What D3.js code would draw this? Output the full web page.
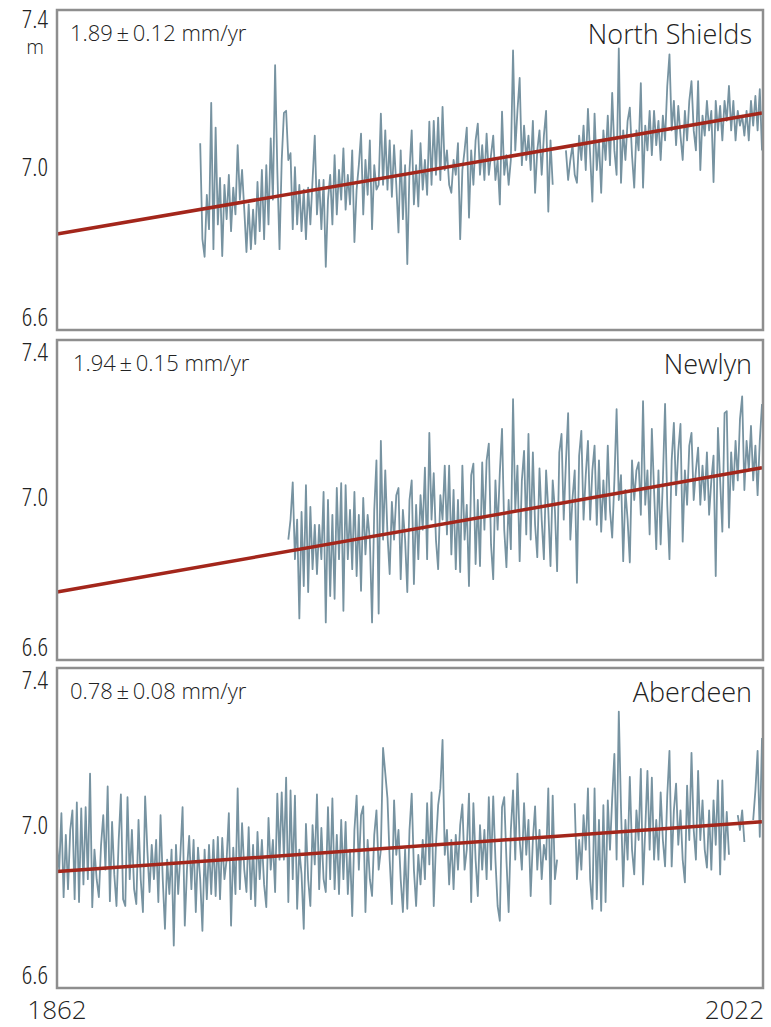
<!DOCTYPE html>
<html>
<head>
<meta charset="utf-8">
<script src="https://cdn.jsdelivr.net/npm/d3@7/dist/d3.min.js"></script>
<style>
  body { margin: 0; background: #fff; }
  text { font-family: "Open Sans", "Noto Sans", sans-serif; font-weight: 300; fill: #222; }
</style>
</head>
<body>
<svg id="chart" width="771" height="1027"></svg>
<script>
// mean sea level at half-year steps, in mm
var northShieldsStart = 1894.5;
var northShieldsMm = [
  7067, 6827, 6783, 6938, 6852, 7168, 6802, 7106, 6864, 6980, 6785,
  6963, 6877, 6988, 6847, 6956, 6889, 7062, 6926, 7000, 6901, 6795, 6914, 6802, 6901, 6815, 6970, 6847, 7000, 6827, 7012,
  6864, 7079, 6926, 7262, 7000, 6802, 7025, 7143, 7148, 7025, 7042, 6852, 7007, 6864, 6963, 6847, 6951, 6827, 6956, 6864,
  6975, 7086, 6889, 6975, 6852, 6975, 6758, 6926, 6988, 6864, 7037, 6889, 7000, 6926, 7054, 6901, 6988, 6914, 7049, 6820,
  6951, 7012, 7091, 6889, 7025, 6938, 7074, 6852, 7012, 6951, 6963, 7141, 6963, 7099, 6951, 7074, 6933, 7062, 6963, 6844,
  7049, 6877, 7012, 6765, 7000, 7099, 6914, 7012, 6909, 7067, 6951, 7025, 6938, 7121, 6963, 7123, 6988, 7131, 6975, 7158,
  7000, 7049, 6963, 6943, 7025, 6988, 7067, 6827, 7000, 7049, 7106, 6881, 7049, 6963, 7074, 7116, 6988, 7062, 6975, 7091,
  6988, 7037, 7086, 6975, 7025, 6914, 7146, 6988, 7037, 6963, 7025, 7299, 7049, 7148, 7230, 7012, 7111, 7025, 7086, 7000,
  7123, 6943, 7049, 7099, 6988, 7086, 7148, 6896, 7074, 6963, null, null, null, null, null, 7049, 6975, 7025, 7062, 6988,
  6968, 7086, 7025, 7111, 7000, 7153, 7037, 6921, 7141, 7000, 7074, 6943, 7099, 7025, 7136, 7012, 7193, 7049, 6988, 7304,
  6968, 7099, 7025, 7123, 7156, 7037, 6956, 7099, 7049, 7217, 6956, 7111, 7049, 7148, 7037, 7148, 7062, 7123, 7025, 7136,
  7074, 7210, 7289, 7099, 7173, 7062, 7160, 7086, 7025, 7148, 7074, 7173, 7222, 7099, 7049, 7222, 7000, 7136, 7086, 7173,
  7099, 7148, 6970, 7173, 7099, 7160, 7074, 7173, 7123, 7210, 7099, 7173, 7074, 7148, 7111, 7136, 7086, 7148, 7074, 7173,
  7111, 7185, 7099, 7202, 7049
];

var newlynStart = 1914.5;
var newlynMm = [
  6901, 6951, 7044, 6852, 6951, 6704, 6970, 6785, 7037, 6770, 6983,
  6827, 6938, 6815, 6938, 6852, 7020, 6694, 7000, 6760, 6963, 6753, 7030, 6852, 7042, 6723, 7037, 6852, 6975, 6827, 7020,
  6810, 6963, 6773, 7005, 6864, 6963, 6901, 6694, 6975, 7099, 6716, 7148, 6901, 7074, 6914, 6815, 6995, 6901, 7012, 7030,
  6802, 6975, 6901, 6770, 7000, 7049, 6790, 6988, 6852, 7012, 6926, 7081, 6852, 7168, 6951, 7067, 6901, 6827, 7012, 6951,
  7086, 6914, 7086, 6864, 7025, 6827, 7000, 6820, 7086, 6901, 6988, 6785, 7062, 7091, 6840, 7000, 6835, 7094, 6926, 7099,
  7141, 6889, 6802, 7049, 6926, 7069, 7178, 6926, 6832, 7000, 6877, 7252, 6975, 7086, 6847, 7049, 7123, 6914, 7165, 6901,
  7119, 6938, 6857, 7079, 6951, 6852, 7074, 6975, 6835, 7049, 6975, 6822, 7119, 7165, 6951, 7094, 7217, 6901, 7005, 7074,
  6793, 7111, 7173, 6951, 7062, 7148, 6951, 7074, 7136, 6938, 7099, 6921, 7049, 6951, 7136, 6975, 6906, 7049, 7227, 7000,
  7062, 6847, 7025, 6951, 6844, 7099, 7000, 7074, 7094, 6963, 7247, 6988, 7074, 6914, 7178, 7025, 6877, 7074, 6889, 7049,
  7240, 6988, 6852, 7099, 7193, 7012, 7123, 7190, 6896, 7074, 6988, 7136, 7168, 7000, 7074, 7131, 6988, 7086, 7000, 7119,
  6963, 7049, 7111, 6810, 7180, 7049, 6921, 7217, 7222, 6931, 7119, 7025, 7148, 7049, 7202, 7259, 7025, 7148, 7074, 7185,
  7049, 7136, 7012, 7148, 7240
];

var aberdeenStart = 1862;
var aberdeenMm = [
  6958, 6896, 7037, 6827, 6983, 6847, 6995, 7044, 6822, 7064, 6815, 7049, 6859, 7052, 6872, 7136, 6802, 6946, 6872, 6827,
  6958, 7032, 6896, 7104, 6817, 7015, 6884, 6805, 6970, 7084, 6822, 6805, 7077, 6872, 6995, 6847, 6810, 7020, 6872, 6790,
  7079, 6946, 6840, 6958, 6872, 6970, 6815, 7032, 6872, 6748, 6921, 6835, 6946, 6706, 6958, 6835, 6933, 7052, 6756, 6896,
  6980, 6847, 6970, 6790, 6951, 6872, 6743, 6946, 6822, 6958, 6835, 6970, 6830, 6978, 6822, 6975, 6872, 6921, 7037, 6756,
  6951, 6835, 7099, 6847, 7012, 6896, 6840, 7002, 6822, 6958, 6805, 6990, 6872, 6970, 6859, 6802, 7025, 6896, 6970, 6840,
  7086, 6921, 7089, 6921, 7126, 6815, 7094, 6872, 7081, 6798, 6946, 6884, 6748, 7010, 6872, 6805, 7007, 6909, 7084, 6847,
  7000, 6872, 6840, 7052, 6872, 7074, 6847, 6983, 6835, 7020, 6872, 7015, 6835, 6946, 6780, 6995, 7081, 6896, 7032, 7054,
  6790, 6970, 6872, 6830, 6983, 7044, 6896, 6946, 7200, 7138, 7074, 6921, 6810, 7069, 6933, 6995, 6872, 6790, 6946, 6798,
  6995, 7086, 6896, 6805, 6933, 6859, 6970, 6872, 7062, 6909, 7089, 6805, 6958, 7057, 7099, 7220, 6933, 6995, 6859, 6970,
  6847, 6983, 6896, 7007, 7059, 6896, 6946, 7086, 6815, 7062, 6921, 6830, 7007, 6896, 6995, 6872, 7077, 6896, 7079, 6921,
  6805, 6768, 7052, 7077, 6921, 6790, 6995, 7094, 6921, 7136, 6970, 6896, 7062, 6933, 7020, 6830, 6970, 7054, 6896, 6995,
  6872, 6958, 6921, 7099, 6810, 7081, 6872, 6921, null, null, null, null, null, null, null, 7062, 6872, 6970, 6896, 7032,
  6946, 7099, 6872, 6798, 7099, 6822, 7020, 6793, 7057, 6815, 7069, 6946, 7074, 7185, 6921, 7291, 7049, 6854, 7020, 6921,
  7128, 6946, 6884, 7044, 6970, 7148, 6859, 6995, 7143, 6946, 7126, 6921, 7020, 6921, 7089, 6970, 6904, 7081, 7193, 6904,
  7044, 7111, 6958, 7044, 6921, 6864, 7106, 6970, 7188, 6995, 6921, 7143, 6970, 7069, 6946, 6901, 7044, 6896, 7069, 6958,
  7119, 6884, 7119, 6921, 7040, 6933, null, null, null, 7032, 6995, 7044, 6965, null, null, null, 7020, 7094, 7193, 6978, 7225
];

var stationNames = ["North Shields", "Newlyn", "Aberdeen"];
var rateLabels = ["1.89\u2009\u00b1\u20090.12 mm/yr", "1.94\u2009\u00b1\u20090.15 mm/yr", "0.78\u2009\u00b1\u20090.08 mm/yr"];
var trendRateMm = [1.89, 1.94, 0.78];      // mm per year
var trendAt1862 = [6.840, 6.770, 6.891];   // m, where the fitted line meets the left edge
var yTickValues = [6.6, 7.0, 7.4];
var xTickValues = [1862, 2022];

var series = [
  {start: northShieldsStart, values: northShieldsMm},
  {start: newlynStart, values: newlynMm},
  {start: aberdeenStart, values: aberdeenMm}
];

var svg = d3.select("#chart");
var left = 57, right = 763, panelH = 320;
var panelTops = [10, 340, 668];

var x = d3.scaleLinear().domain(d3.extent(xTickValues)).range([left, 762]);

series.forEach(function(s, i) {
  var top = panelTops[i], bottom = top + panelH;
  var y = d3.scaleLinear().domain([6.6, 7.4]).range([bottom, top]);
  var g = svg.append("g");

  var pts = s.values.map(function(v, k) {
    return {t: s.start + k * 0.5, v: v == null ? null : v / 1000};
  });
  var line = d3.line()
    .defined(function(d) { return d.v != null; })
    .x(function(d) { return x(d.t); })
    .y(function(d) { return y(d.v); });

  g.append("path")
    .attr("d", line(pts))
    .attr("fill", "none")
    .attr("stroke", "#7793a1")
    .attr("stroke-width", 1.8)
    .attr("stroke-linejoin", "round");

  var t0 = xTickValues[0], t1 = xTickValues[1];
  g.append("line")
    .attr("x1", x(t0)).attr("y1", y(trendAt1862[i]))
    .attr("x2", x(t1)).attr("y2", y(trendAt1862[i] + trendRateMm[i] * (t1 - t0) / 1000))
    .attr("stroke", "#a3261b")
    .attr("stroke-width", 3.5);

  g.append("rect")
    .attr("x", left).attr("y", top)
    .attr("width", right - left).attr("height", panelH)
    .attr("fill", "none")
    .attr("stroke", "#8e8e8e")
    .attr("stroke-width", 2.5);

  // tick labels are nudged inside the panel like the original
  g.selectAll(".ytick").data(yTickValues).enter()
    .append("text")
    .attr("class", "ytick")
    .attr("x", 48)
    .attr("y", function(d) {
      if (d == 7.4) return y(d) + (i == 0 ? 18 : 21);
      if (d == 6.6) return y(d) - 4;
      return y(d) + 6;
    })
    .attr("text-anchor", "end")
    .style("font-size", "26px")
    .style("font-stretch", "80%")
    .text(function(d) { return d.toFixed(1); });

  if (i == 0) {
    g.append("text")
      .attr("x", 35).attr("y", top + 44)
      .attr("text-anchor", "middle")
      .style("font-size", "20px")
      .text("m");
  }

  g.append("text")
    .attr("x", i == 1 ? 73 : 70).attr("y", top + 31)
    .style("font-size", "22px")
    .style("font-stretch", "96%")
    .text(rateLabels[i]);

  g.append("text")
    .attr("x", 752).attr("y", top + 34)
    .attr("text-anchor", "end")
    .style("font-size", "27px")
    .style("font-stretch", "90%")
    .text(stationNames[i]);
});

svg.selectAll(".xtick").data(xTickValues).enter()
  .append("text")
  .attr("class", "xtick")
  .attr("x", function(d, i) { return i == 0 ? x(d) : right + 1; })
  .attr("y", 1019)
  .attr("text-anchor", function(d, i) { return i == 0 ? "middle" : "end"; })
  .style("font-size", "26px")
  .style("font-stretch", "88%")
  .text(function(d) { return d; });
</script>
</body>
</html>
